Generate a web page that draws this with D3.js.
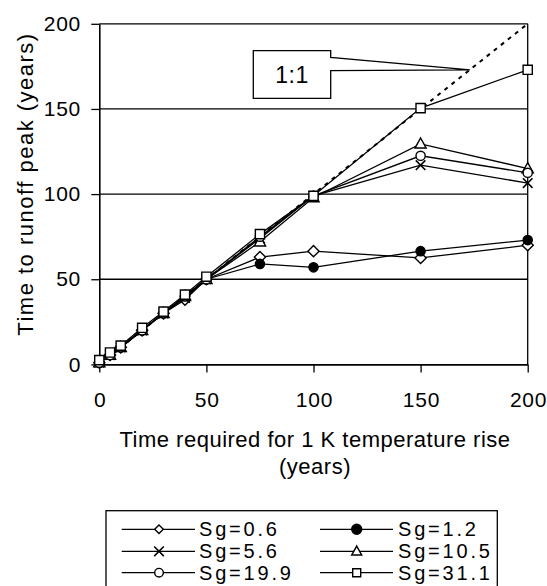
<!DOCTYPE html>
<html>
<head>
<meta charset="utf-8">
<script src="https://cdn.jsdelivr.net/npm/d3@7"></script>
<style>
  body { margin: 0; background: #fff; }
  svg { display: block; }
  text { font-family: "Liberation Sans", Arial, Helvetica, sans-serif; fill: #000; }
</style>
</head>
<body>
<div id="container"></div>
<script>
/* CONSTANTS AND GLOBALS */
const width = 547;
const height = 586;
const plot = { left: 99.3, right: 527.7, top: 23.8, bottom: 364.4 };

/* DATA */
const years = [0, 5, 10, 20, 30, 40, 50, 75, 100, 150, 200];
const sg06 = [1, 5.5, 10, 20, 30, 38, 50, 63, 66.5, 62.5, 70];
const sg12 = [1, 5.5, 10, 20, 30, 40, 50, 59, 57, 66.5, 73];
const sg56 = [1, 5.5, 10, 20, 30, 39, 50, 74, 99, 117, 106.5];
const sg105 = [1, 5.5, 10, 20, 30, 40, 50, 72, 98, 129.5, 115];
const sg199 = [1, 5.5, 10, 20, 30, 40, 50, 75, 99, 122.5, 112.5];
const sg311 = [2.5, 7, 11, 21.5, 31, 41, 51.5, 76.5, 99, 150.5, 173];
const seriesNames = ["Sg=0.6", "Sg=1.2", "Sg=5.6", "Sg=10.5", "Sg=19.9", "Sg=31.1"];
const seriesValues = [sg06, sg12, sg56, sg105, sg199, sg311];
const seriesMarkers = ["diamond", "dot", "cross", "triangle", "circle", "square"];
const oneToOne = [0, 200];
const calloutAt = 173;
const xTicks = [0, 50, 100, 150, 200];
const yTicks = [0, 50, 100, 150, 200];

const svg = d3.select("#container").append("svg")
  .attr("width", width)
  .attr("height", height);

/* SCALES */
const xScale = d3.scaleLinear().domain([0, 200]).range([plot.left, plot.right]);
const yScale = d3.scaleLinear().domain([0, 200]).range([plot.bottom, plot.top]);

// marker shapes, s = half size
function markerPath(type, s) {
  if (type === "square") return `M${-s},${-s}H${s}V${s}H${-s}Z`;
  if (type === "diamond") return `M0,${-s}L${s},0L0,${s}L${-s},0Z`;
  if (type === "triangle") return `M0,${-s * 1.05}L${s},${s * 0.75}H${-s}Z`;
  if (type === "cross") return `M${-s},${-s}L${s},${s}M${s},${-s}L${-s},${s}`;
  return d3.arc()({ innerRadius: 0, outerRadius: s, startAngle: 0, endAngle: 2 * Math.PI });
}
function drawMarker(g, type, s) {
  g.append("path")
    .attr("d", markerPath(type, s))
    .attr("fill", type === "dot" ? "#000" : (type === "cross" ? "none" : "#fff"))
    .attr("stroke", "#000")
    .attr("stroke-width", type === "cross" ? 1.6 : 1.4);
}

/* GRID + FRAME */
svg.append("g")
  .selectAll("line")
  .data(yTicks.filter(d => d > 0))
  .join("line")
  .attr("x1", plot.left).attr("x2", plot.right)
  .attr("y1", d => yScale(d)).attr("y2", d => yScale(d))
  .attr("stroke", "#000").attr("stroke-width", 1.3);

svg.append("line")
  .attr("x1", plot.right).attr("x2", plot.right)
  .attr("y1", plot.top).attr("y2", plot.bottom)
  .attr("stroke", "#000").attr("stroke-width", 1.3);

/* AXES */
const xAxis = d3.axisBottom(xScale).tickValues(xTicks).tickSize(8).tickPadding(20).tickSizeOuter(0);
const yAxis = d3.axisLeft(yScale).tickValues(yTicks).tickSize(8).tickPadding(11).tickSizeOuter(0);

const gx = svg.append("g")
  .attr("transform", `translate(0,${plot.bottom})`)
  .call(xAxis);
const gy = svg.append("g")
  .attr("transform", `translate(${plot.left},0)`)
  .call(yAxis);

[gx, gy].forEach(g => {
  g.select(".domain").attr("stroke", "#000").attr("stroke-width", 1.6);
  g.selectAll(".tick line").attr("stroke", "#000").attr("stroke-width", 1.3);
  g.selectAll(".tick text")
    .attr("font-size", 21)
    .attr("letter-spacing", 0.8)
    .attr("font-family", "Liberation Sans, Arial, sans-serif")
    .attr("fill", "#000");
});
gx.selectAll(".tick text").attr("dx", 0.4).attr("dy", "0.68em");
gy.selectAll(".tick text").attr("dx", 0.8);

/* 1:1 LINE */
svg.append("path")
  .datum(oneToOne)
  .attr("d", d3.line().x(d => xScale(d)).y(d => yScale(d)))
  .attr("fill", "none")
  .attr("stroke", "#000")
  .attr("stroke-width", 2)
  .attr("stroke-dasharray", "4,5");

/* SERIES */
const line = d3.line()
  .x((d, i) => xScale(years[i]))
  .y(d => yScale(d));

seriesValues.forEach(vals => {
  svg.append("path")
    .datum(vals)
    .attr("d", line)
    .attr("fill", "none")
    .attr("stroke", "#000")
    .attr("stroke-width", 1.3);
});
seriesValues.forEach((vals, k) => {
  const type = seriesMarkers[k];
  const s = type === "square" ? 4.6 : (type === "diamond" ? 5.6 : (type === "triangle" ? 5.6 : (type === "cross" ? 4.8 : 4.6)));
  vals.forEach((v, i) => {
    const g = svg.append("g").attr("transform", `translate(${xScale(years[i])},${yScale(v)})`);
    drawMarker(g, type, s);
  });
});

/* CALLOUT "1:1" */
const tipX = xScale(calloutAt), tipY = yScale(calloutAt);
const box = { l: 253.3, t: 50.7, r: 330.7, b: 98.3, n1: 57.3, n2: 70.7 };
svg.append("path")
  .attr("d", `M${box.l},${box.t}H${box.r}V${box.n1}L${tipX},${tipY}L${box.r},${box.n2}V${box.b}H${box.l}Z`)
  .attr("fill", "#fff")
  .attr("stroke", "#000")
  .attr("stroke-width", 1.3);
svg.append("text")
  .attr("x", (box.l + box.r) / 2)
  .attr("y", 83)
  .attr("text-anchor", "middle")
  .attr("font-size", 23)
  .attr("letter-spacing", 0.5)
  .text("1:1");

/* AXIS TITLES */
svg.append("text")
  .attr("x", 315)
  .attr("y", 447)
  .attr("text-anchor", "middle")
  .attr("font-size", 22)
  .attr("letter-spacing", 0.5)
  .text("Time required for 1 K temperature rise");
svg.append("text")
  .attr("x", 315)
  .attr("y", 474)
  .attr("text-anchor", "middle")
  .attr("font-size", 22)
  .attr("letter-spacing", 0.5)
  .text("(years)");
svg.append("text")
  .attr("transform", "translate(33,184) rotate(-90)")
  .attr("text-anchor", "middle")
  .attr("font-size", 22)
  .attr("letter-spacing", 1.5)
  .text("Time to runoff peak (years)");

/* LEGEND */
const legend = svg.append("g");
legend.append("rect")
  .attr("x", 106).attr("y", 510.7)
  .attr("width", 391.3).attr("height", 80)
  .attr("fill", "#fff").attr("stroke", "#000").attr("stroke-width", 1.3);

const legendCol = [{ x1: 121.7, xm: 159, x2: 195, tx: 199 }, { x1: 320, xm: 356.7, x2: 393, tx: 398 }];
const legendRow = [529.3, 551.3, 572.7];
const legendSize = { diamond: 4.3, dot: 5, cross: 4.8, triangle: 5, circle: 4.3, square: 4 };

seriesNames.forEach((name, k) => {
  const c = legendCol[k % 2];
  const yy = legendRow[Math.floor(k / 2)];
  legend.append("line")
    .attr("x1", c.x1).attr("x2", c.x2)
    .attr("y1", yy).attr("y2", yy)
    .attr("stroke", "#000").attr("stroke-width", 1.3);
  const g = legend.append("g").attr("transform", `translate(${c.xm},${yy})`);
  drawMarker(g, seriesMarkers[k], legendSize[seriesMarkers[k]]);
  legend.append("text")
    .attr("x", c.tx)
    .attr("y", yy + 7)
    .attr("font-size", 20)
    .attr("letter-spacing", 2.8)
    .text(name);
});
</script>
</body>
</html>
